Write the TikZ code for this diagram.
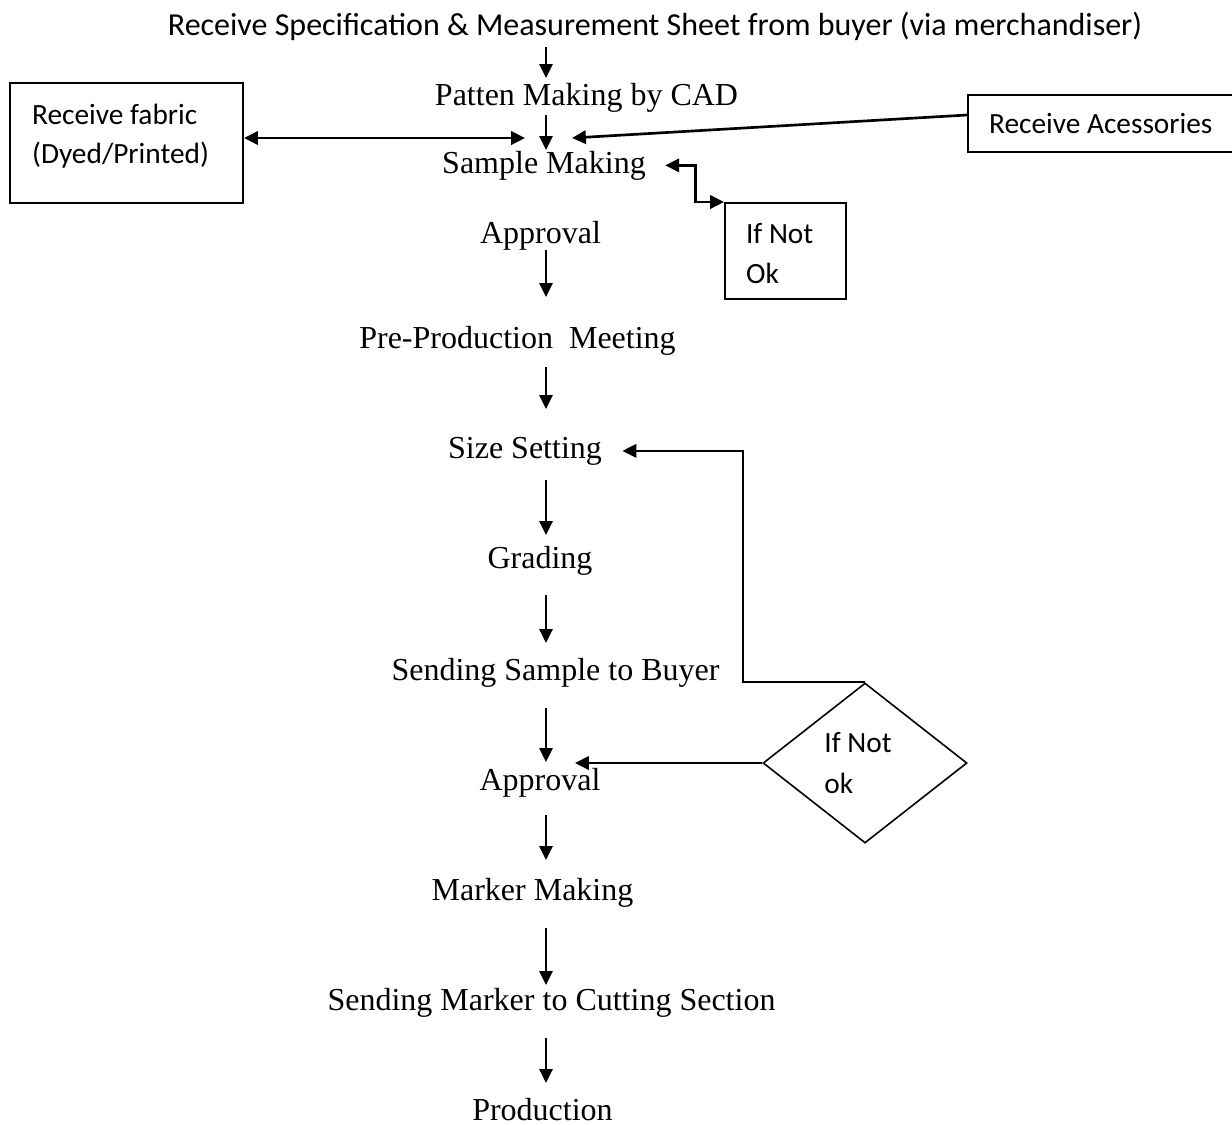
\documentclass[tikz,border=0pt]{standalone}
\usepackage{fontspec}
\setmainfont{Liberation Serif}
\newfontfamily\calibri{Carlito}
\usetikzlibrary{arrows.meta,calc,shapes.geometric}

\begin{document}
\begin{tikzpicture}[
    x=0.375pt, y=-0.375pt,
    stage/.style={anchor=base, inner sep=0pt, font=\fontsize{12}{14}\selectfont},
    box/.style={draw, line width=0.75pt, anchor=north west, inner ysep=0pt, font=\calibri\fontsize{11}{14.6}\selectfont},
    arr/.style={-{Triangle[length=5.2pt,width=5pt]}, line width=0.65pt},
    thkarr/.style={arr, line width=1pt},
    dblarr/.style={{Triangle[length=5.2pt,width=5pt]}-{Triangle[length=5.2pt,width=5pt]}, line width=1pt},
    loopline/.style={arr, line width=0.8pt}
]
    \useasboundingbox (0,0) rectangle (1232,1124);

    % spine of the down arrows, and where the inputs meet
    \coordinate (spine) at (546,0);
    \coordinate (merge) at (548,138);

    % Steps
    \node[stage, font=\calibri\fontsize{12}{14}\selectfont] (spec) at (655,35) {Receive Specification \& Measurement Sheet from buyer (via merchandiser)};
    \node[stage] (patten) at (586.5,105) {Patten Making by CAD};
    \node[stage] (sample) at (544,173) {Sample Making};
    \node[stage] (approvala) at (540.5,243) {Approval};
    \node[stage] (ppm) at (517.5,348) {Pre-Production\ \ Meeting};
    \node[stage] (size) at (525,458) {Size Setting};
    \node[stage] (grading) at (540,568) {Grading};
    \node[stage] (sendsample) at (555.5,680) {Sending Sample to Buyer};
    \node[stage] (approvalb) at (540,790) {Approval};
    \node[stage] (marker) at (532.5,900) {Marker Making};
    \node[stage] (sendmarker) at (551.5,1010) {Sending Marker to Cutting Section};
    \node[stage] (production) at (542.5,1120) {Production};

    % Side boxes
    \node[box, inner xsep=8.3pt, text height=15.6pt, text depth=29.4pt] (fabric) at (9,82) {\makebox[70.8pt][l]{\begin{tabular}[t]{@{}l@{}}Receive fabric\\(Dyed/Printed)\end{tabular}}};
    \node[box, inner xsep=7.9pt, text height=14.6pt, text depth=6.8pt] (acc) at (967,94) {\makebox[86.6pt][l]{Receive Acessories}};
    \node[box, inner xsep=7.9pt, text height=15pt, text depth=21pt] (ifnota) at (724,202) {\makebox[29.6pt][l]{\begin{tabular}[t]{@{}l@{}}If Not\\[0.4pt]Ok\end{tabular}}};
    \node[draw, diamond, line width=0.6pt, minimum width=76.5pt, minimum height=60pt, inner sep=0pt, align=left, font=\calibri\fontsize{11}{15.4}\selectfont] (ifnotb) at (865,763) {If Not\hspace*{5.2pt}\\ok};

    % Down arrows
    \draw[arr] ($(spec.base -| spine)+(0,12)$) -- ($(patten.base -| spine)+(0,-27)$);
    \draw[arr] ($(patten.base -| spine)+(0,10)$) -- ($(sample.base -| spine)+(0,-23)$);
    \draw[arr] ($(approvala.base -| spine)+(0,7)$) -- ($(ppm.base -| spine)+(0,-51)$);
    \draw[arr] ($(ppm.base -| spine)+(0,19)$) -- ($(size.base -| spine)+(0,-49)$);
    \draw[arr] ($(size.base -| spine)+(0,22)$) -- ($(grading.base -| spine)+(0,-33)$);
    \draw[arr] ($(grading.base -| spine)+(0,27)$) -- ($(sendsample.base -| spine)+(0,-37)$);
    \draw[arr] ($(sendsample.base -| spine)+(0,28)$) -- ($(approvalb.base -| spine)+(0,-28)$);
    \draw[arr] ($(approvalb.base -| spine)+(0,25)$) -- ($(marker.base -| spine)+(0,-40)$);
    \draw[arr] ($(marker.base -| spine)+(0,28)$) -- ($(sendmarker.base -| spine)+(0,-25)$);
    \draw[arr] ($(sendmarker.base -| spine)+(0,28)$) -- ($(production.base -| spine)+(0,-37)$);

    % Inputs into sample making
    \draw[dblarr] (fabric.east |- merge) -- ($(merge)+(-23,0)$);
    \draw[thkarr] ($(acc.north west)+(0,21)$) -- ($(merge)+(24,0)$);
    \draw[dblarr] ($(sample.east)+(19,0)$) -- ++(30,0) |- (ifnota.north west);

    % Buyer rejects
    \draw[loopline] (ifnotb.north) -| ($(size.east)+(141,0)$) -- ($(size.east)+(20,0)$);
    \draw[thkarr] (ifnotb.west) -- ($(approvalb.east |- ifnotb.west)+(-26,0)$);
\end{tikzpicture}
\end{document}
